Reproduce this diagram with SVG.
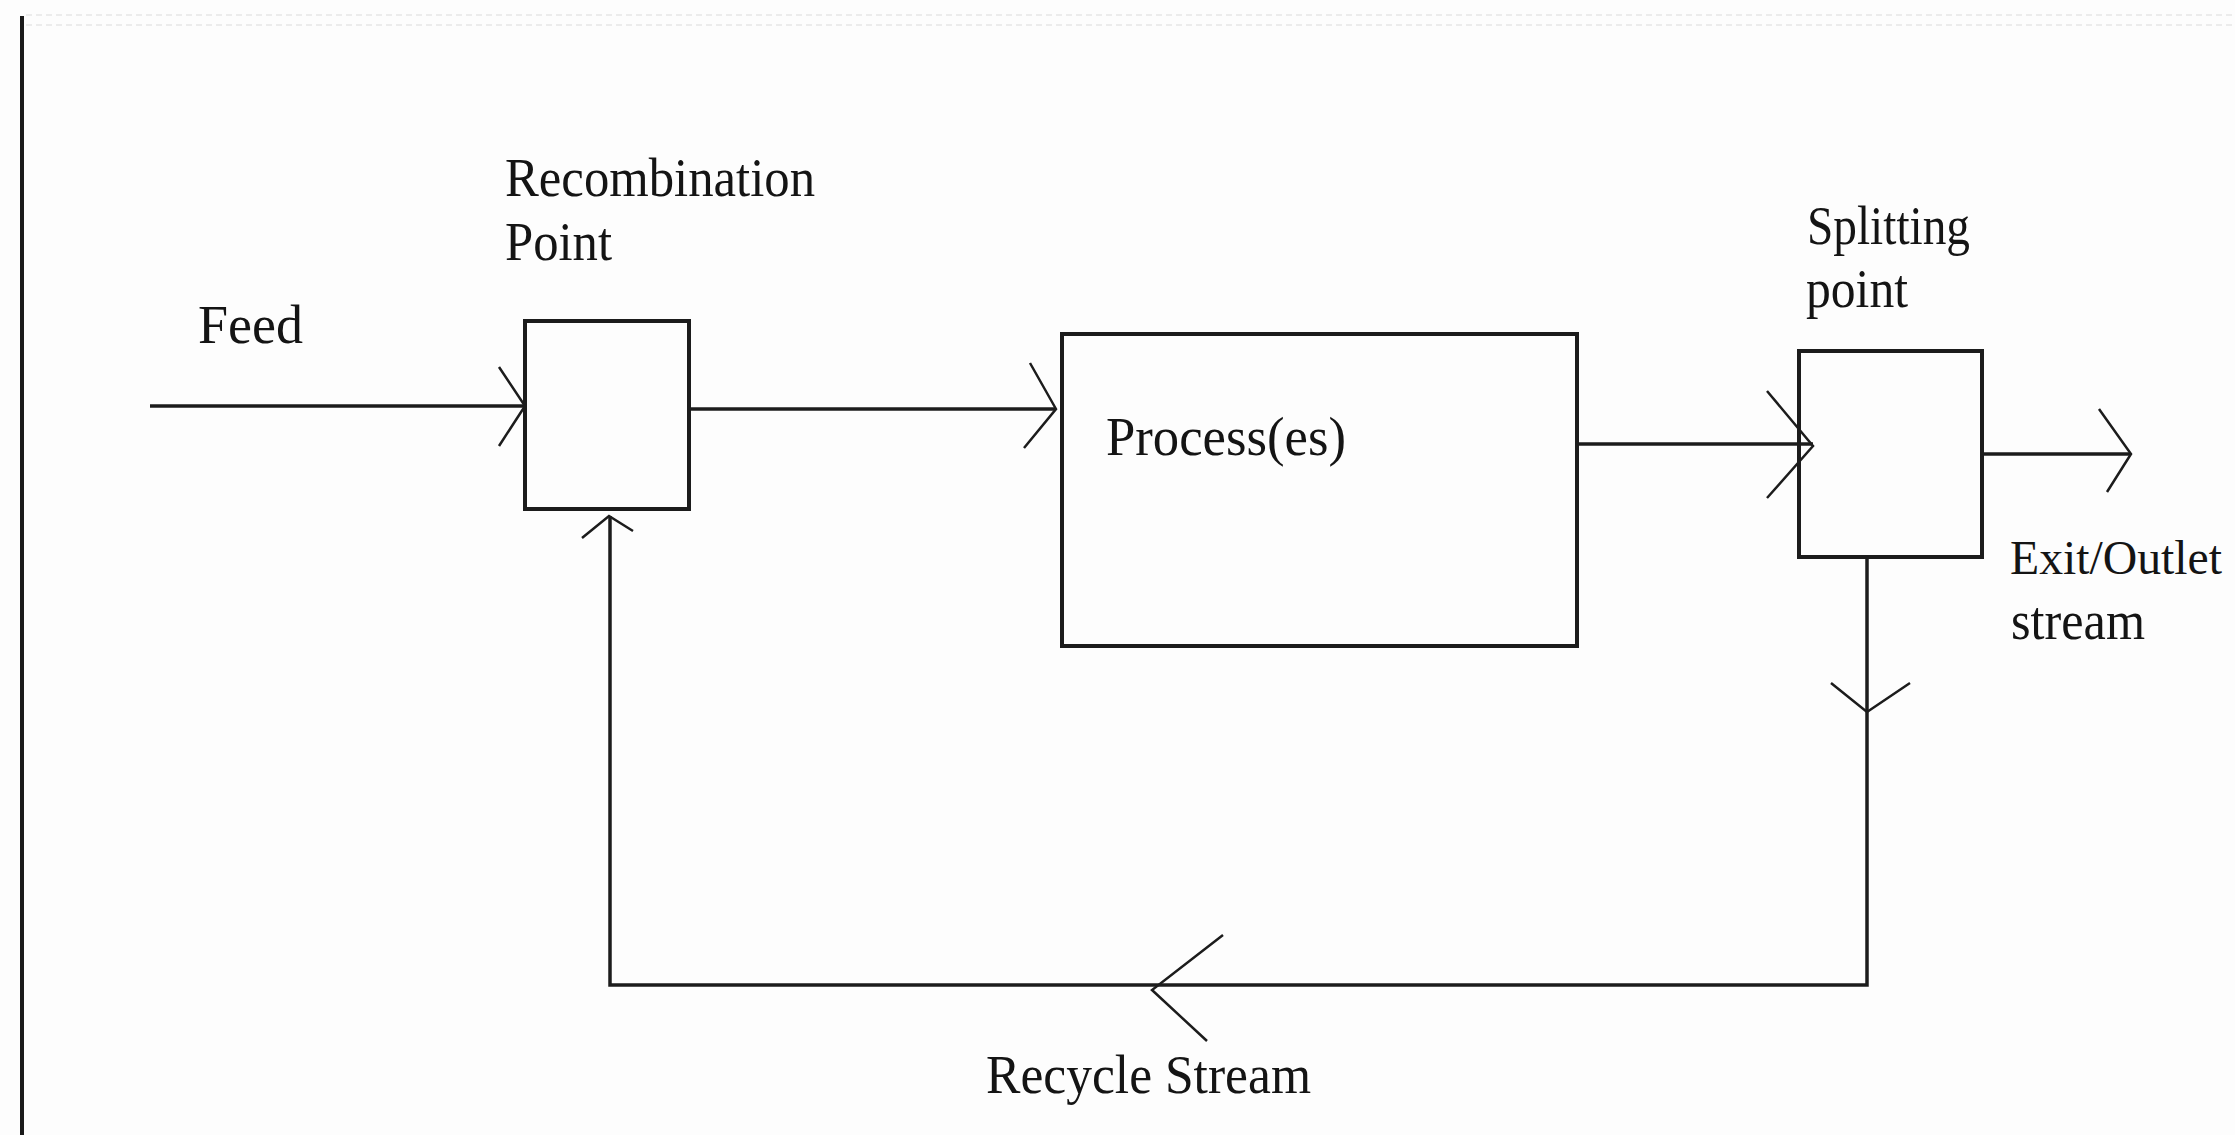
<svg xmlns="http://www.w3.org/2000/svg" width="2235" height="1135" viewBox="0 0 2235 1135">
  <style>
    .bg { fill: #fdfdfd; }
    .box { fill: none; stroke: #1c1c1c; stroke-width: 4; }
    .flow { fill: none; stroke: #1c1c1c; stroke-width: 3.5; }
    .head { fill: none; stroke: #1c1c1c; stroke-width: 2.5; stroke-linejoin: miter; }
    .label { font-family: "Liberation Serif", "Times New Roman", serif; font-size: 54px; fill: #141414; }
    .label.tight { font-size: 48px; }
    .edge { stroke: #1a1a1a; stroke-width: 4; }
    .faint { stroke: #ececec; stroke-width: 2; stroke-dasharray: 6 4; }
  </style>

  <rect class="bg" x="0" y="0" width="2235" height="1135"/>

  <!-- page frame remnants -->
  <line class="faint" x1="26" y1="15" x2="2235" y2="15"/>
  <line class="faint" x1="26" y1="25" x2="2235" y2="25"/>
  <line class="edge" x1="22" y1="16" x2="22" y2="1135"/>

  <!-- streams -->
  <g id="connectors">
    <!-- feed into recombination point -->
    <line class="flow" x1="150" y1="406" x2="525" y2="406"/>
    <polyline class="head" points="499,367 525,406 499,446"/>

    <!-- recombination point to process -->
    <line class="flow" x1="689" y1="409" x2="1056" y2="409"/>
    <polyline class="head" points="1030,363 1056,409 1024,448"/>

    <!-- process to splitting point -->
    <line class="flow" x1="1577" y1="444" x2="1813" y2="444"/>
    <polyline class="head" points="1767,391 1813,446 1767,498"/>

    <!-- exit / outlet stream -->
    <line class="flow" x1="1982" y1="454" x2="2131" y2="454"/>
    <polyline class="head" points="2099,409 2131,454 2107,492"/>

    <!-- recycle loop -->
    <polyline class="flow" points="1867,557 1867,985 610,985 610,516"/>
    <polyline class="head" points="1831,683 1867,712 1910,683"/>
    <polyline class="head" points="1223,935 1152,990 1207,1041"/>
    <polyline class="head" points="582,538 609,516 633,531"/>
  </g>

  <g id="recombination-point">
    <rect class="box" x="525" y="321" width="164" height="188"/>
    <text class="label" x="505" y="196" textLength="310" lengthAdjust="spacingAndGlyphs">Recombination</text>
    <text class="label" x="505" y="260" textLength="107" lengthAdjust="spacingAndGlyphs">Point</text>
  </g>

  <g id="feed">
    <text class="label" x="198" y="343" textLength="105" lengthAdjust="spacingAndGlyphs">Feed</text>
  </g>

  <g id="process">
    <rect class="box" x="1062" y="334" width="515" height="312"/>
    <text class="label" x="1106" y="455" textLength="240" lengthAdjust="spacingAndGlyphs">Process(es)</text>
  </g>

  <g id="splitting-point">
    <rect class="box" x="1799" y="351" width="183" height="206"/>
    <text class="label" x="1807" y="244" textLength="163" lengthAdjust="spacingAndGlyphs">Splitting</text>
    <text class="label" x="1806" y="307" textLength="102" lengthAdjust="spacingAndGlyphs">point</text>
  </g>

  <g id="exit-stream">
    <text class="label tight" x="2010" y="574" textLength="212" lengthAdjust="spacingAndGlyphs">Exit/Outlet</text>
    <text class="label" x="2011" y="639" textLength="134" lengthAdjust="spacingAndGlyphs">stream</text>
  </g>

  <g id="recycle-stream">
    <text class="label" x="986" y="1093" textLength="325" lengthAdjust="spacingAndGlyphs">Recycle Stream</text>
  </g>
</svg>
